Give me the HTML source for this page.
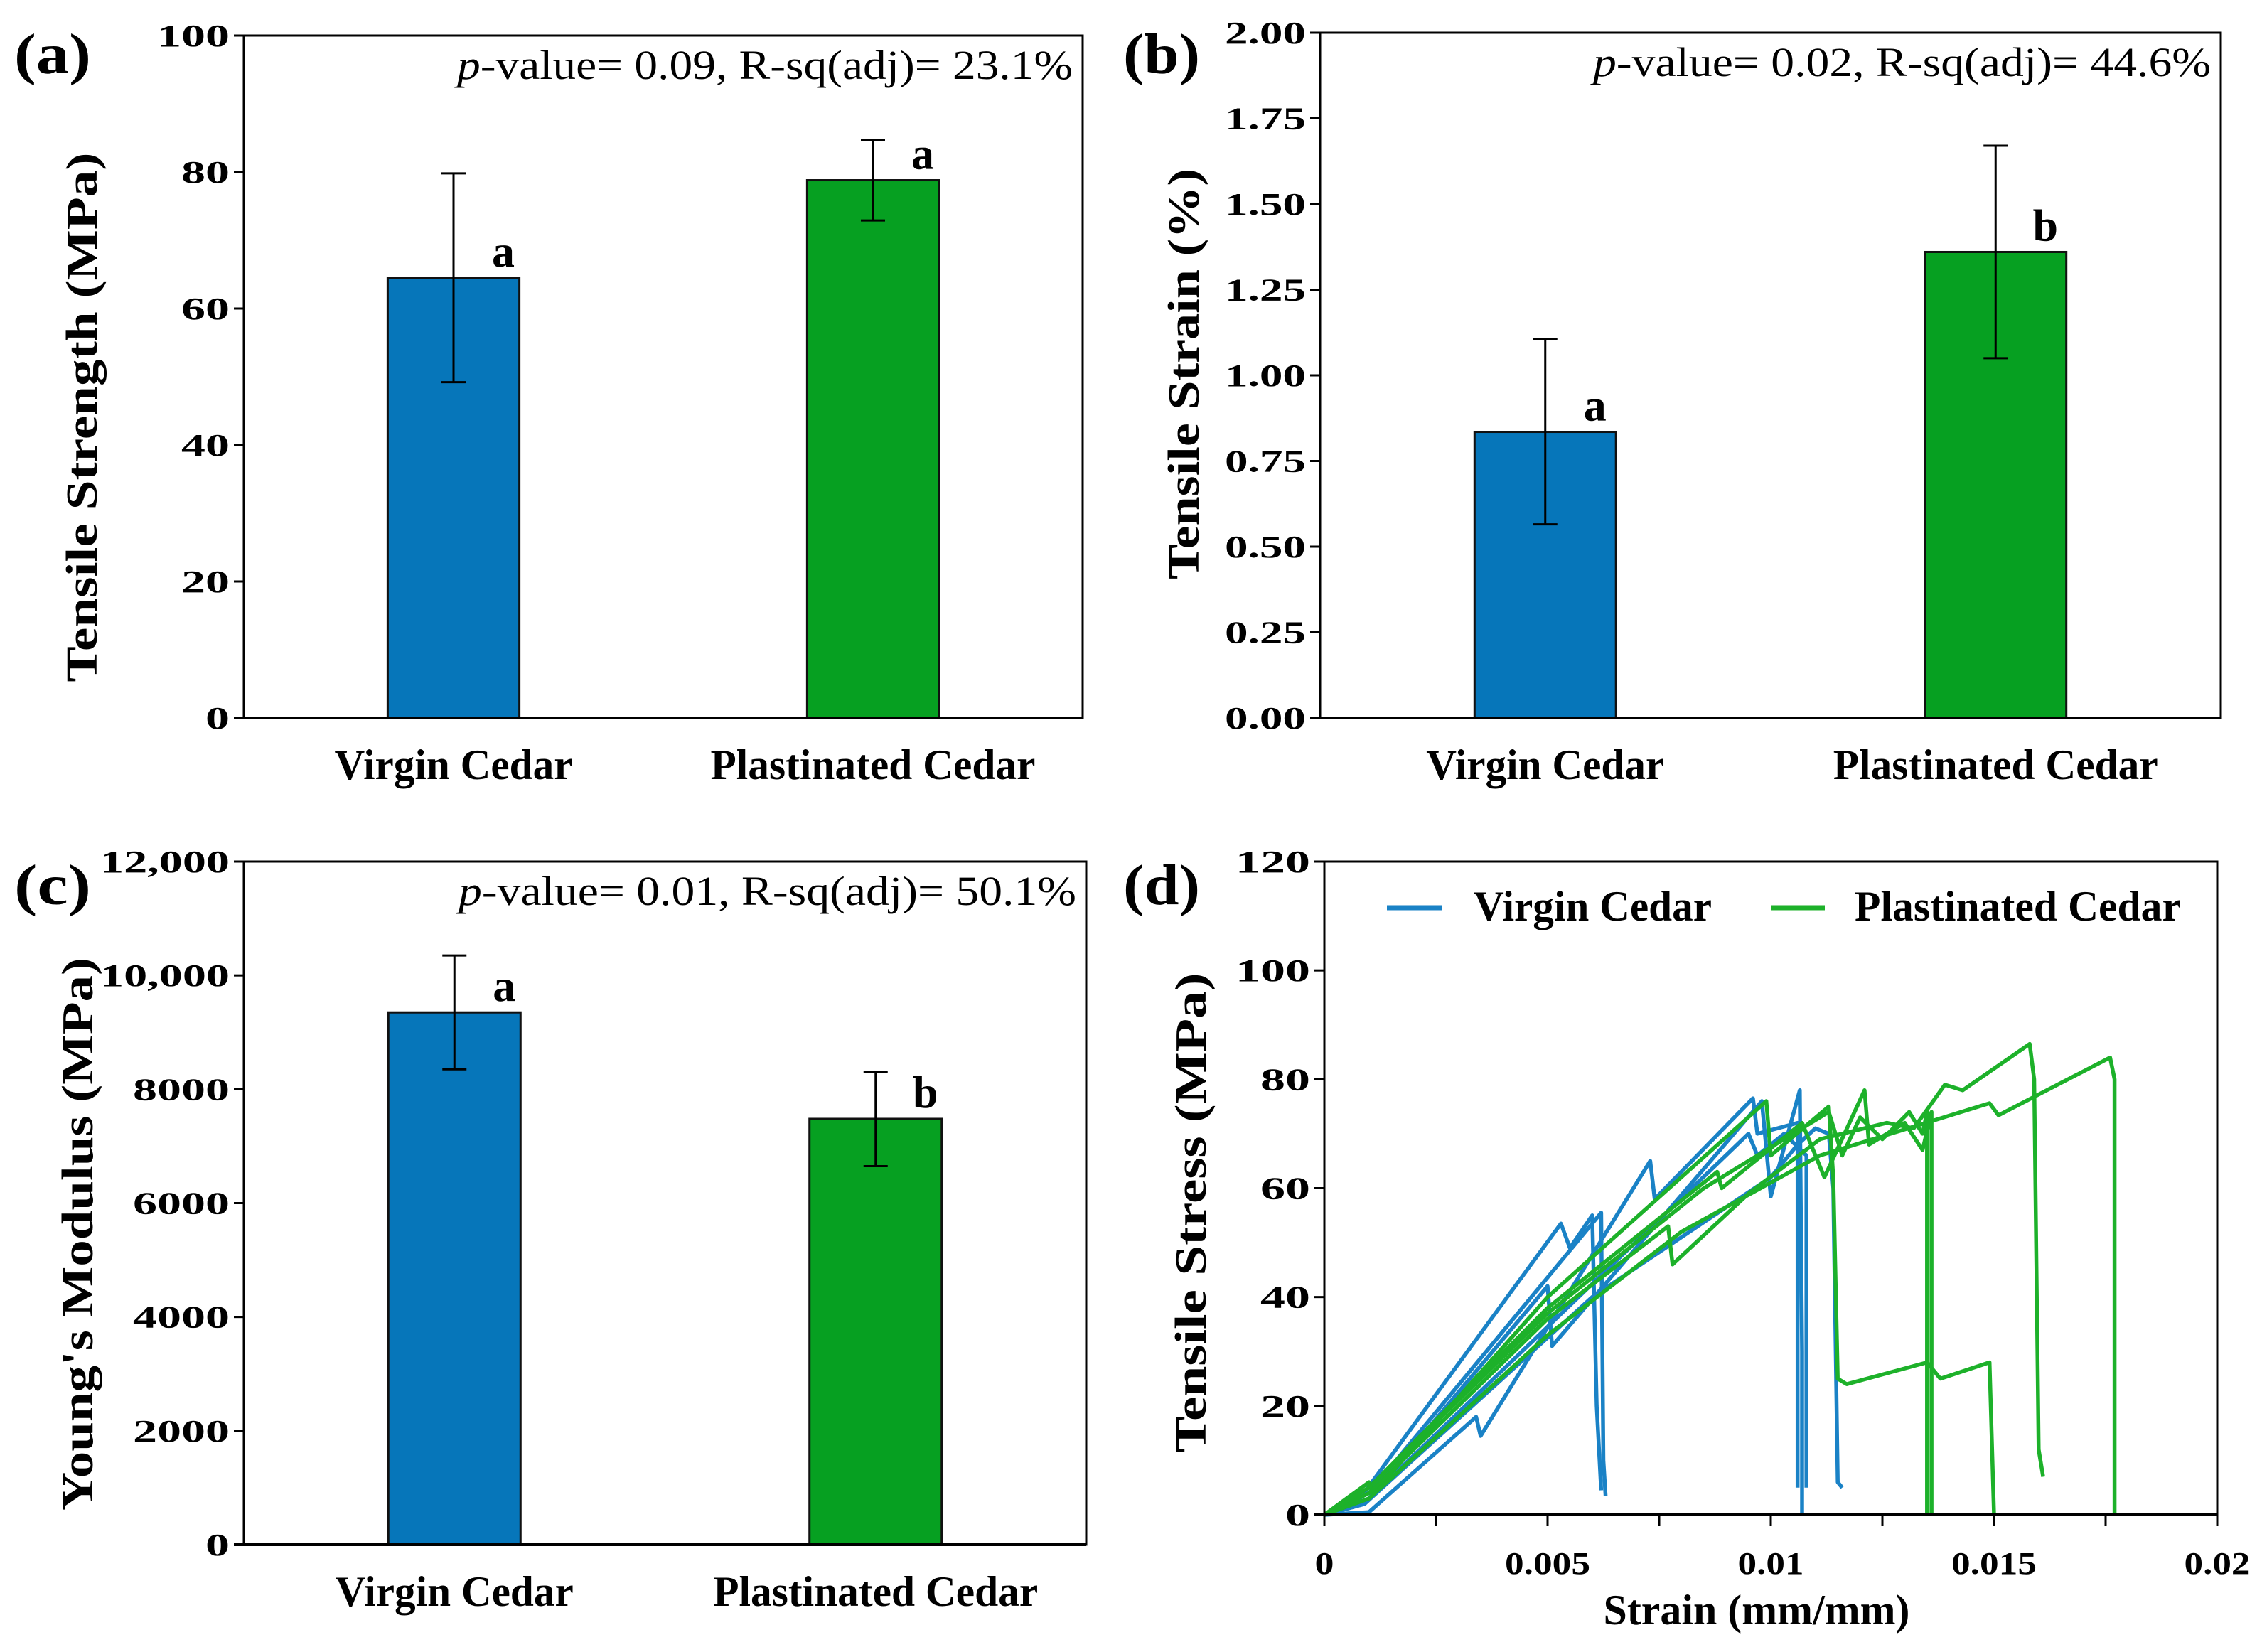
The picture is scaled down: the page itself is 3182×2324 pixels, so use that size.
<!DOCTYPE html>
<html>
<head>
<meta charset="utf-8">
<style>
html,body{margin:0;padding:0;background:#fff;}
svg{display:block;}
text{font-family:"Liberation Serif","Times New Roman",serif;fill:#000;}
</style>
</head>
<body>
<svg id="chart" width="3182" height="2324" viewBox="0 0 3182 2324" xmlns="http://www.w3.org/2000/svg"></svg>
<script>
// ---------- DATA ----------
const categories = ['Virgin Cedar', 'Plastinated Cedar'];

const strengthMean = [64.5, 78.8];
const strengthSD = [15.3, 5.9];
const strengthLetters = ['a', 'a'];
const strengthTicks = [0, 20, 40, 60, 80, 100];
const strengthTickLabels = ['0', '20', '40', '60', '80', '100'];
const strengthStat = ['0.09', '23.1%'];

const strainMean = [0.835, 1.36];
const strainSD = [0.27, 0.31];
const strainLetters = ['a', 'b'];
const strainTicks = [0, 0.25, 0.5, 0.75, 1.0, 1.25, 1.5, 1.75, 2.0];
const strainTickLabels = ['0.00', '0.25', '0.50', '0.75', '1.00', '1.25', '1.50', '1.75', '2.00'];
const strainStat = ['0.02', '44.6%'];

const modulusMean = [9350, 7480];
const modulusSD = [1000, 830];
const modulusLetters = ['a', 'b'];
const modulusTicks = [0, 2000, 4000, 6000, 8000, 10000, 12000];
const modulusTickLabels = ['0', '2000', '4000', '6000', '8000', '10,000', '12,000'];
const modulusStat = ['0.01', '50.1%'];

const curveXTicks = [0, 0.005, 0.01, 0.015, 0.02];
const curveXTickLabels = ['0', '0.005', '0.01', '0.015', '0.02'];
const curveXMinorTicks = [0.0025, 0.0075, 0.0125, 0.0175];
const curveYTicks = [0, 20, 40, 60, 80, 100, 120];
const curveYTickLabels = ['0', '20', '40', '60', '80', '100', '120'];

const virginStrain = [
  [0, 0.0008, 0.0053, 0.0055, 0.0060, 0.0061, 0.0062],
  [0, 0.001, 0.0062, 0.00625, 0.0063],
  [0, 0.001, 0.0034, 0.0035, 0.0073, 0.0074, 0.0096, 0.0097, 0.0106, 0.0106],
  [0, 0.0009, 0.0050, 0.0051, 0.0098, 0.0100, 0.01065, 0.0107, 0.0107],
  [0, 0.001, 0.0095, 0.0097, 0.0103, 0.0108, 0.0108],
  [0, 0.0009, 0.0060, 0.0100, 0.0106, 0.0110, 0.0113, 0.0114, 0.0115, 0.0116]
];
const virginStress = [
  [0, 3, 53.5, 49, 55, 20, 4.5],
  [0, 4, 55.5, 10, 3.5],
  [0, 0.5, 18, 14.5, 65, 58, 76.5, 70, 72, 5],
  [0, 2, 42, 31, 76, 58.5, 78, 30, 0],
  [0, 3, 70, 66, 70, 66, 5],
  [0, 2, 40, 62, 68, 71, 70, 60, 6, 5]
];
const plastStrain = [
  [0, 0.0005, 0.001, 0.0011, 0.005, 0.0099, 0.0100, 0.0113, 0.0114, 0.0115, 0.0117, 0.0135, 0.0138, 0.0149, 0.0150],
  [0, 0.001, 0.005, 0.0088, 0.0089, 0.0107, 0.0112, 0.0121, 0.0122, 0.0130, 0.0134, 0.0136, 0.0136],
  [0, 0.001, 0.005, 0.0077, 0.0078, 0.0095, 0.0111, 0.0126, 0.0132, 0.0139, 0.0143, 0.0158, 0.0159, 0.0160, 0.0161],
  [0, 0.001, 0.005, 0.008, 0.0111, 0.0149, 0.0151, 0.0176, 0.0177, 0.0177],
  [0, 0.001, 0.005, 0.0085, 0.0113, 0.0116, 0.0120, 0.0125, 0.0131, 0.0134, 0.0135, 0.0135]
];
const plastStress = [
  [0, 3, 6, 4, 40, 76, 66, 75, 62, 25, 24, 28, 25, 28, 0],
  [0, 5, 38, 63, 60, 72, 62, 78, 68, 72, 67, 74, 0],
  [0, 4, 36, 53, 46, 59, 69, 72, 71, 79, 78, 86.5, 80, 12, 7],
  [0, 3, 33, 52, 66, 75.6, 73.4, 84, 80, 0],
  [0, 5, 37, 60, 74, 66, 73, 69, 74, 70, 74, 0]
];

// ---------- HELPERS ----------
const NS = 'http://www.w3.org/2000/svg';
const svg = document.getElementById('chart');
function mk(tag, attrs, parent) {
  const e = document.createElementNS(NS, tag);
  for (const k in attrs) e.setAttribute(k, attrs[k]);
  (parent || svg).appendChild(e);
  return e;
}
function txt(str, attrs, parent) {
  const e = mk('text', attrs, parent);
  e.textContent = str;
  return e;
}
function labelWidth(s, dw, pw) {
  let w = 0;
  for (const c of s) w += (c >= '0' && c <= '9') ? dw : pw;
  return w;
}
const BLUE = '#0676ba', GREEN = '#06a021';
const LBLUE = '#1a82c6', LGREEN = '#1db12a';

// ---------- BAR PANEL ----------
function drawBarPanel(p) {
  const g = mk('g', {});
  
  
  const W = p.R - p.L;
  const Y = v => p.B - (v / p.ymax) * (p.B - p.T);
  const bw = W * 0.157;

  p.mean.forEach((m, i) => {
    const cx = p.L + W * (i === 0 ? 0.25 : 0.75);
    const bar = mk('rect', {x: cx - bw / 2, y: Y(m), width: bw, height: p.B - Y(m), fill: i === 0 ? BLUE : GREEN, stroke: '#111', 'stroke-width': 3}, g);
    
    
    const lo = Y(m - p.sd[i]), hi = Y(m + p.sd[i]);
    const eb = mk('path', {d: `M${cx},${lo}V${hi}M${cx - 17},${lo}H${cx + 17}M${cx - 17},${hi}H${cx + 17}`, stroke: '#000', 'stroke-width': 3, fill: 'none'}, g);
    
    
    const lt = txt(p.letters[i], {x: cx + 70, y: Y(m) - 16, 'font-size': 64, 'font-weight': 'bold', 'text-anchor': 'middle'}, g);
    
    
    const xl = txt(categories[i], {x: cx, y: p.B + 86, 'font-size': 60, 'font-weight': 'bold', 'text-anchor': 'middle', textLength: i === 0 ? 335 : 457, lengthAdjust: 'spacingAndGlyphs'}, g);
    
    
  });

  const box = mk('rect', {x: p.L, y: p.T, width: W, height: p.B - p.T, fill: 'none', stroke: '#000', 'stroke-width': 3}, g);
  
  
  const xa = mk('line', {x1: p.L - 14, x2: p.R, y1: p.B, y2: p.B, stroke: '#000', 'stroke-width': 4}, g);
  
  

  p.ticks.forEach((t, i) => {
    const y = Y(t);
    const tk = mk('line', {x1: p.L - 14, x2: p.L, y1: y, y2: y, stroke: '#000', 'stroke-width': 3}, g);
    
    
    const s = p.tickLabels[i];
    const tl = txt(s, {x: p.L - 20, y: y + 15, 'font-size': 44, 'font-weight': 'bold', 'text-anchor': 'end', textLength: labelWidth(s, 34, 12), lengthAdjust: 'spacingAndGlyphs'}, g);
    
    
  });

  const yt = txt(p.ytitle, {x: 0, y: 0, 'font-size': 62, 'font-weight': 'bold', 'text-anchor': 'middle', textLength: p.ytLen, lengthAdjust: 'spacingAndGlyphs', transform: `translate(${p.ytX},${p.ytY}) rotate(-90)`}, g);
  
  

  const an = mk('text', {x: p.R - 14, y: p.T + 61, 'font-size': 58, 'text-anchor': 'end', textLength: p.anLen, lengthAdjust: 'spacingAndGlyphs'}, g);
  
  
  const ip = mk('tspan', {'font-style': 'italic'}, an);
  ip.textContent = 'p';
  const rest = mk('tspan', {}, an);
  rest.textContent = '-value= ' + p.stat[0] + ', R-sq(adj)= ' + p.stat[1];

  const pl = txt(p.panel, {x: p.plX, y: p.plY, 'font-size': 80, 'font-weight': 'bold', textLength: 108, lengthAdjust: 'spacingAndGlyphs'}, g);
  
  
}

drawBarPanel({name: 'panel-a-tensile-strength', L: 343, R: 1523, T: 50, B: 1010, ymax: 100,
  mean: strengthMean, sd: strengthSD, letters: strengthLetters, ticks: strengthTicks, tickLabels: strengthTickLabels,
  stat: strengthStat, anLen: 866, ytitle: 'Tensile Strength (MPa)', ytX: 136, ytY: 587, ytLen: 745,
  panel: '(a)', plX: 20, plY: 103});
drawBarPanel({name: 'panel-b-tensile-strain', L: 1857, R: 3124, T: 46, B: 1010, ymax: 2,
  mean: strainMean, sd: strainSD, letters: strainLetters, ticks: strainTicks, tickLabels: strainTickLabels,
  stat: strainStat, anLen: 869, ytitle: 'Tensile Strain (%)', ytX: 1686, ytY: 526, ytLen: 578,
  panel: '(b)', plX: 1580, plY: 103});
drawBarPanel({name: 'panel-c-youngs-modulus', L: 343, R: 1528, T: 1212, B: 2173, ymax: 12000,
  mean: modulusMean, sd: modulusSD, letters: modulusLetters, ticks: modulusTicks, tickLabels: modulusTickLabels,
  stat: modulusStat, anLen: 869, ytitle: "Young's Modulus (MPa)", ytX: 130, ytY: 1736, ytLen: 778,
  panel: '(c)', plX: 20, plY: 1272});

// ---------- PANEL D ----------
(function () {
  const L = 1863, R = 3119, T = 1212, B = 2131;
  const X = v => L + (v / 0.02) * (R - L);
  const Y = v => B - (v / 120) * (B - T);
  const g = mk('g', {});
  
  

  function drawSeries(xs, ys, color, nm) {
    xs.forEach((arr, k) => {
      const d = arr.map((v, i) => (i ? 'L' : 'M') + X(v).toFixed(1) + ',' + Y(ys[k][i]).toFixed(1)).join('');
      const pth = mk('path', {d: d, fill: 'none', stroke: color, 'stroke-width': 5.5, 'stroke-linejoin': 'round'}, g);
      
      
    });
  }
  drawSeries(virginStrain, virginStress, LBLUE, 'virgin');
  drawSeries(plastStrain, plastStress, LGREEN, 'plastinated');

  const box = mk('rect', {x: L, y: T, width: R - L, height: B - T, fill: 'none', stroke: '#000', 'stroke-width': 3}, g);
  
  
  const xa = mk('line', {x1: L - 14, x2: R, y1: B, y2: B, stroke: '#000', 'stroke-width': 4}, g);
  
  

  curveYTicks.forEach((t, i) => {
    const tk = mk('line', {x1: L - 14, x2: L, y1: Y(t), y2: Y(t), stroke: '#000', 'stroke-width': 3}, g);
    
    
    const s = curveYTickLabels[i];
    const tl = txt(s, {x: L - 20, y: Y(t) + 15, 'font-size': 44, 'font-weight': 'bold', 'text-anchor': 'end', textLength: labelWidth(s, 35, 12), lengthAdjust: 'spacingAndGlyphs'}, g);
    
    
  });
  curveXTicks.forEach((t, i) => {
    const tk = mk('line', {x1: X(t), x2: X(t), y1: B, y2: B + 16, stroke: '#000', 'stroke-width': 3}, g);
    
    
    const s = curveXTickLabels[i];
    const tl = txt(s, {x: X(t), y: B + 83, 'font-size': 44, 'font-weight': 'bold', 'text-anchor': 'middle', textLength: labelWidth(s, 27, 12), lengthAdjust: 'spacingAndGlyphs'}, g);
    
    
  });
  curveXMinorTicks.forEach(t => {
    const tk = mk('line', {x1: X(t), x2: X(t), y1: B, y2: B + 16, stroke: '#000', 'stroke-width': 3}, g);
    
    
  });

  const xt = txt('Strain (mm/mm)', {x: 2471, y: 2285, 'font-size': 60, 'font-weight': 'bold', 'text-anchor': 'middle', textLength: 431, lengthAdjust: 'spacingAndGlyphs'}, g);
  
  
  const yt = txt('Tensile Stress  (MPa)', {x: 0, y: 0, 'font-size': 62, 'font-weight': 'bold', 'text-anchor': 'middle', textLength: 675, lengthAdjust: 'spacingAndGlyphs', transform: 'translate(1696,1706) rotate(-90)', 'xml:space': 'preserve'}, g);
  
  

  const pl = txt('(d)', {x: 1580, y: 1272, 'font-size': 80, 'font-weight': 'bold', textLength: 108, lengthAdjust: 'spacingAndGlyphs'}, g);
  
  

  const lg = mk('g', {}, g);
  
  
  const l1 = mk('line', {x1: 1951, x2: 2029, y1: 1277, y2: 1277, stroke: LBLUE, 'stroke-width': 7}, lg);
  
  
  const t1 = txt('Virgin Cedar', {x: 2073, y: 1295, 'font-size': 60, 'font-weight': 'bold', textLength: 335, lengthAdjust: 'spacingAndGlyphs'}, lg);
  
  
  const l2 = mk('line', {x1: 2492, x2: 2567, y1: 1277, y2: 1277, stroke: LGREEN, 'stroke-width': 7}, lg);
  
  
  const t2 = txt('Plastinated Cedar', {x: 2609, y: 1295, 'font-size': 60, 'font-weight': 'bold', textLength: 459, lengthAdjust: 'spacingAndGlyphs'}, lg);
  
  
})();
</script>
</body>
</html>
